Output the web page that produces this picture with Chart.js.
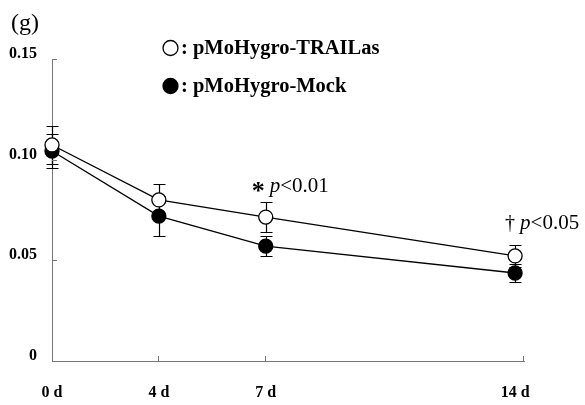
<!DOCTYPE html>
<html><head><meta charset="utf-8">
<script src="https://cdn.jsdelivr.net/npm/chart.js@4"></script>
<style>html,body{margin:0;padding:0;background:#fff}#wrap{width:585px;height:405px;position:relative}</style>
</head><body><div id="wrap"><canvas id="c" width="585" height="405"></canvas></div>
<script>
// ---- data ----
const dayLabels = ['0 d', '4 d', '7 d', '14 d'];
// position of each sampling day on the original linear axis (day 0 plotted at 1)
const plotX = [1, 4, 7, 14];
const trailMean = [0.1073, 0.0800, 0.0715, 0.0522];
const trailErr  = [0.0094, 0.0080, 0.0075, 0.0055];
const mockMean  = [0.1043, 0.0720, 0.0571, 0.0437];
const mockErr   = [0.0084, 0.0100, 0.0050, 0.0045];
const yTicks = [0, 0.05, 0.10, 0.15];
const yTickLabels = ['0', '0.05', '0.10', '0.15'];
const seriesNames = ['pMoHygro-TRAILas', 'pMoHygro-Mock'];
const panelLabel = '(g)';
const notes = [
  {day: '7 d', mark: '*', p: 'p', txt: '<0.01'},
  {day: '14 d', mark: '\u2020', p: 'p', txt: '<0.05'}
];

const SERIF = '"Liberation Serif", "Times New Roman", serif';

const errorBars = {
  id: 'errorBars',
  beforeDatasetsDraw(chart) {
    const {ctx, scales: {x, y}} = chart;
    ctx.save();
    ctx.strokeStyle = '#000';
    ctx.lineWidth = 1.2;
    chart.data.datasets.forEach(ds => {
      ds.data.forEach((p, i) => {
        const px = Math.round(x.getPixelForValue(p.x)) + 0.5;
        const hi = Math.round(y.getPixelForValue(p.y + ds.err[i])) + 0.5;
        const lo = Math.round(y.getPixelForValue(p.y - ds.err[i])) + 0.5;
        ctx.beginPath();
        ctx.moveTo(px, hi); ctx.lineTo(px, lo);
        ctx.moveTo(px - 6, hi); ctx.lineTo(px + 6, hi);
        ctx.moveTo(px - 6, lo); ctx.lineTo(px + 6, lo);
        ctx.stroke();
      });
    });
    ctx.restore();
  }
};

const decorations = {
  id: 'decorations',
  afterDraw(chart) {
    const {ctx, scales: {x, y}} = chart;
    ctx.save();
    // inward axis ticks
    ctx.strokeStyle = '#777';
    ctx.lineWidth = 1;
    yTicks.forEach(v => {
      if (v === 0) return;
      const py = Math.round(y.getPixelForValue(v)) + 0.5;
      ctx.beginPath(); ctx.moveTo(x.left, py); ctx.lineTo(x.left + 5, py); ctx.stroke();
    });
    const xt = plotX.slice(1, 3).map(v => x.getPixelForValue(v)).concat([x.right]);
    xt.forEach(px => {
      px = Math.round(px) - 0.5;
      ctx.beginPath(); ctx.moveTo(px, y.bottom); ctx.lineTo(px, y.bottom - 5); ctx.stroke();
    });

    // panel label
    ctx.fillStyle = '#000';
    ctx.textBaseline = 'alphabetic';
    ctx.textAlign = 'left';
    ctx.font = '24px ' + SERIF;
    ctx.fillText(panelLabel, 11, 30);

    // legend
    const ys = [48, 86];
    chart.data.datasets.forEach((ds, i) => {
      ctx.beginPath();
      ctx.arc(170.5, ys[i], 7.5, 0, Math.PI * 2);
      ctx.fillStyle = ds.pointBackgroundColor;
      ctx.fill();
      ctx.lineWidth = 1.3;
      ctx.strokeStyle = '#000';
      ctx.stroke();
      ctx.fillStyle = '#000';
      ctx.font = 'bold 20.5px ' + SERIF;
      ctx.textBaseline = 'middle';
      ctx.fillText(': ' + ds.label, 181, ys[i] + 1);
    });

    // significance notes
    ctx.textBaseline = 'alphabetic';
    const offs = [{dx: -14, dy: -10}, {dx: -10, dy: -16}];
    notes.forEach((n, k) => {
      const i = dayLabels.indexOf(n.day);
      const px = x.getPixelForValue(plotX[i]) + offs[k].dx;
      const py = y.getPixelForValue(trailMean[i] + trailErr[i]) + offs[k].dy;
      let cx = px;
      ctx.font = (k === 0 ? 'bold 26px ' : '20px ') + SERIF;
      ctx.fillText(n.mark, cx, py + (k === 0 ? 7 : 0));
      cx += ctx.measureText(n.mark).width + 5;
      ctx.font = 'italic 21px ' + SERIF;
      ctx.fillText(n.p, cx, py);
      cx += ctx.measureText(n.p).width;
      ctx.font = '21px ' + SERIF;
      ctx.fillText(n.txt, cx, py);
    });
    ctx.restore();
  }
};

const tickFont = {family: SERIF, size: 16, weight: 'bold'};

new Chart(document.getElementById('c').getContext('2d'), {
  type: 'line',
  data: {
    datasets: [
      {
        label: seriesNames[0],
        data: plotX.map((v, i) => ({x: v, y: trailMean[i]})),
        err: trailErr,
        borderColor: '#000', borderWidth: 1.3,
        pointRadius: 7, pointBackgroundColor: '#fff', pointBorderColor: '#000', pointBorderWidth: 1.3,
        tension: 0, fill: false, clip: false
      },
      {
        label: seriesNames[1],
        data: plotX.map((v, i) => ({x: v, y: mockMean[i]})),
        err: mockErr,
        borderColor: '#000', borderWidth: 1.3,
        pointRadius: 7, pointBackgroundColor: '#000', pointBorderColor: '#000', pointBorderWidth: 1.3,
        tension: 0, fill: false, clip: false
      }
    ]
  },
  options: {
    responsive: false, animation: false, devicePixelRatio: 1,
    layout: {padding: {left: 0, top: 59, right: 61, bottom: 0}},
    plugins: {legend: {display: false}, tooltip: {enabled: false}},
    scales: {
      x: {
        type: 'linear', min: 1, max: 14.25,
        grid: {display: false, drawTicks: false},
        border: {color: '#777', width: 1},
        afterBuildTicks: s => { s.ticks = plotX.map(v => ({value: v})); },
        afterFit: s => { s.height = 44; },
        ticks: {
          padding: 22, color: '#000', font: tickFont, maxRotation: 0, autoSkip: false,
          callback: (v, i) => dayLabels[i]
        }
      },
      y: {
        min: 0, max: 0.15,
        grid: {display: false, drawTicks: false},
        border: {color: '#777', width: 1},
        afterBuildTicks: s => { s.ticks = yTicks.map(v => ({value: v})); },
        afterFit: s => { s.width = 52; },
        ticks: {
          padding: 15, labelOffset: -5, color: '#000', font: tickFont,
          callback: (v, i) => yTickLabels[i]
        }
      }
    }
  },
  plugins: [errorBars, decorations]
});
</script>
</body></html>
